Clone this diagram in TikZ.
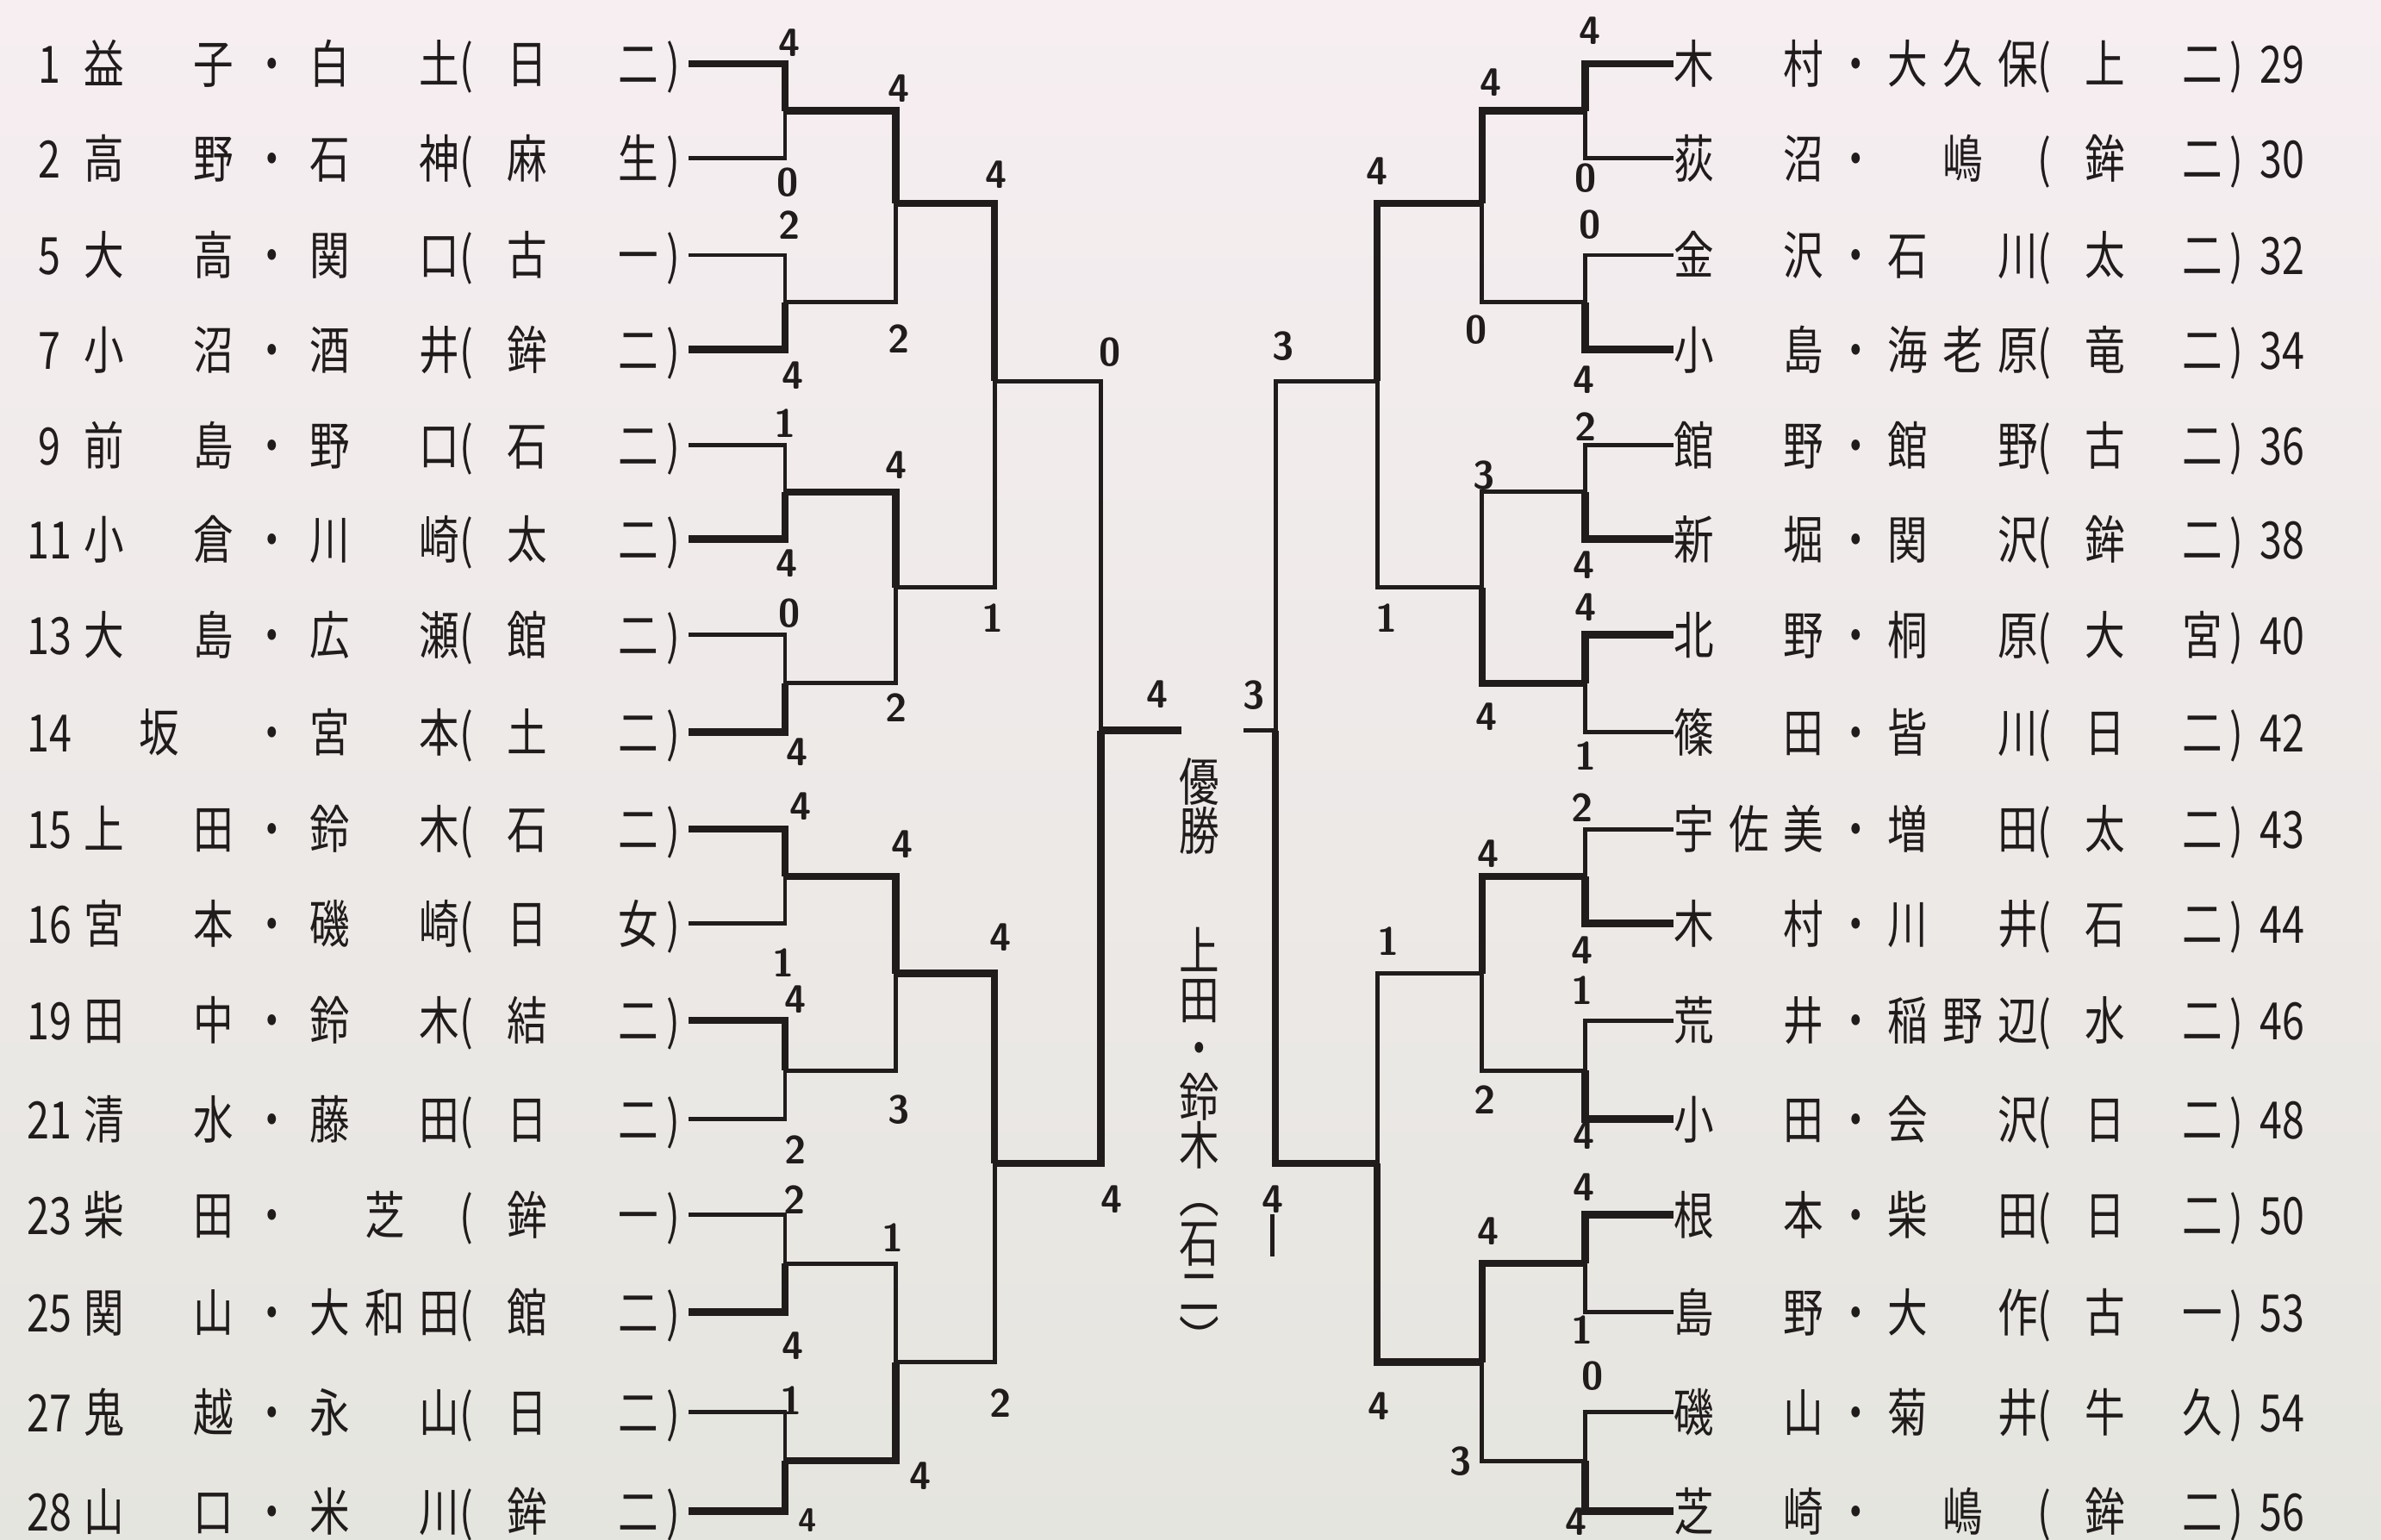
\documentclass[tikz,border=0pt]{standalone}
\usepackage{fontspec}
\newfontfamily\jp[FakeStretch=0.78]{Noto Sans CJK JP}
\definecolor{ink}{RGB}{32,28,28}
\definecolor{papertop}{RGB}{246,238,241}
\definecolor{paperbot}{RGB}{229,229,223}
% one row of the draw: number, two surnames, school
\newcommand\lteam[4]{\makebox[7.9mm]{#1}\makebox[17.4mm][s]{#2}\makebox[8.8mm]{・}\makebox[17.4mm][s]{#3}\makebox[5.5mm][l]{(}\makebox[17.6mm][s]{#4}\makebox[3.4mm]{)}}
\newcommand\rteam[4]{\makebox[17.4mm][s]{#1}\makebox[7.4mm]{・}\makebox[17.4mm][s]{#2}\makebox[5.5mm][l]{(}\makebox[15.9mm][s]{#3}\makebox[3.4mm]{)}\,#4}
\tikzset{
  team/.style={inner sep=0pt, anchor=west, text height=15pt, text depth=2pt, text=ink, font=\jp\fontsize{17}{17}\selectfont},
  score/.style={inner sep=0pt, text=ink, font=\sffamily\bfseries\fontsize{13}{13}\selectfont},
  vtext/.style={inner sep=0pt, align=center, text=ink, font=\jp\fontsize{17}{5.64mm}\selectfont},
  wline/.style={draw=ink, line width=2.4pt},
  lline/.style={draw=ink, line width=1.4pt},
}
\begin{document}
\begin{tikzpicture}[x=0.1762mm,y=-0.1762mm]
\shade[top color=papertop, bottom color=paperbot] (0,0) rectangle (1568,1014);
\useasboundingbox (0,0) rectangle (1568,1014);

% left half
\node[team] (t1) at (10,42) {\lteam{1}{益\hfill 子}{白\hfill 土}{日\hfill 二}};
\node[team] (t2) at (10,104) {\lteam{2}{高\hfill 野}{石\hfill 神}{麻\hfill 生}};
\node[team] (t5) at (10,168) {\lteam{5}{大\hfill 高}{関\hfill 口}{古\hfill 一}};
\node[team] (t7) at (10,230) {\lteam{7}{小\hfill 沼}{酒\hfill 井}{鉾\hfill 二}};
\node[team] (t9) at (10,293) {\lteam{9}{前\hfill 島}{野\hfill 口}{石\hfill 二}};
\node[team] (t11) at (10,355) {\lteam{11}{小\hfill 倉}{川\hfill 崎}{太\hfill 二}};
\node[team] (t13) at (10,418) {\lteam{13}{大\hfill 島}{広\hfill 瀬}{館\hfill 二}};
\node[team] (t14) at (10,482) {\lteam{14}{\hfil 坂\hfil}{宮\hfill 本}{土\hfill 二}};
\node[team] (t15) at (10,546) {\lteam{15}{上\hfill 田}{鈴\hfill 木}{石\hfill 二}};
\node[team] (t16) at (10,608) {\lteam{16}{宮\hfill 本}{磯\hfill 崎}{日\hfill 女}};
\node[team] (t19) at (10,672) {\lteam{19}{田\hfill 中}{鈴\hfill 木}{結\hfill 二}};
\node[team] (t21) at (10,737) {\lteam{21}{清\hfill 水}{藤\hfill 田}{日\hfill 二}};
\node[team] (t23) at (10,800) {\lteam{23}{柴\hfill 田}{\hfil 芝\hfil}{鉾\hfill 一}};
\node[team] (t25) at (10,864) {\lteam{25}{関\hfill 山}{大\hfill 和\hfill 田}{館\hfill 二}};
\node[team] (t27) at (10,930) {\lteam{27}{鬼\hfill 越}{永\hfill 山}{日\hfill 二}};
\node[team] (t28) at (10,995) {\lteam{28}{山\hfill 口}{米\hfill 川}{鉾\hfill 二}};

% right half
\node[team] (t29) at (1102,42) {\rteam{木\hfill 村}{大\hfill 久\hfill 保}{上\hfill 二}{29}};
\node[team] (t30) at (1102,104) {\rteam{荻\hfill 沼}{\hfil 嶋\hfil}{鉾\hfill 二}{30}};
\node[team] (t32) at (1102,168) {\rteam{金\hfill 沢}{石\hfill 川}{太\hfill 二}{32}};
\node[team] (t34) at (1102,230) {\rteam{小\hfill 島}{海\hfill 老\hfill 原}{竜\hfill 二}{34}};
\node[team] (t36) at (1102,293) {\rteam{館\hfill 野}{館\hfill 野}{古\hfill 二}{36}};
\node[team] (t38) at (1102,355) {\rteam{新\hfill 堀}{関\hfill 沢}{鉾\hfill 二}{38}};
\node[team] (t40) at (1102,418) {\rteam{北\hfill 野}{桐\hfill 原}{大\hfill 宮}{40}};
\node[team] (t42) at (1102,482) {\rteam{篠\hfill 田}{皆\hfill 川}{日\hfill 二}{42}};
\node[team] (t43) at (1102,546) {\rteam{宇\hfill 佐\hfill 美}{増\hfill 田}{太\hfill 二}{43}};
\node[team] (t44) at (1102,608) {\rteam{木\hfill 村}{川\hfill 井}{石\hfill 二}{44}};
\node[team] (t46) at (1102,672) {\rteam{荒\hfill 井}{稲\hfill 野\hfill 辺}{水\hfill 二}{46}};
\node[team] (t48) at (1102,737) {\rteam{小\hfill 田}{会\hfill 沢}{日\hfill 二}{48}};
\node[team] (t50) at (1102,800) {\rteam{根\hfill 本}{柴\hfill 田}{日\hfill 二}{50}};
\node[team] (t53) at (1102,864) {\rteam{島\hfill 野}{大\hfill 作}{古\hfill 一}{53}};
\node[team] (t54) at (1102,930) {\rteam{磯\hfill 山}{菊\hfill 井}{牛\hfill 久}{54}};
\node[team] (t56) at (1102,995) {\rteam{芝\hfill 崎}{\hfil 嶋\hfil}{鉾\hfill 二}{56}};

% champion, written top to bottom
\node[vtext] (yusho) at (790,531) {優\\勝};
\node[vtext] (champ) at (790,753) {上\\田\\・\\鈴\\木\\︵\\石\\二\\︶};

% bracket joints, left
\coordinate (a1) at (517,73);
\coordinate (a2) at (517,199);
\coordinate (a3) at (517,324);
\coordinate (a4) at (517,450);
\coordinate (a5) at (517,577);
\coordinate (a6) at (517,705);
\coordinate (a7) at (517,832);
\coordinate (a8) at (517,962);
\coordinate (b1) at (590,134);
\coordinate (b2) at (590,387);
\coordinate (b3) at (590,641);
\coordinate (b4) at (590,897);
\coordinate (c1) at (655,251);
\coordinate (c2) at (655,766);
\coordinate (d1) at (725,481);
\coordinate (e1) at (778,481);
% bracket joints, right
\coordinate (ra1) at (1044,73);
\coordinate (ra2) at (1044,199);
\coordinate (ra3) at (1044,324);
\coordinate (ra4) at (1044,450);
\coordinate (ra5) at (1044,577);
\coordinate (ra6) at (1044,705);
\coordinate (ra7) at (1044,832);
\coordinate (ra8) at (1044,962);
\coordinate (rb1) at (976,134);
\coordinate (rb2) at (976,387);
\coordinate (rb3) at (976,641);
\coordinate (rb4) at (976,897);
\coordinate (rc1) at (907,251);
\coordinate (rc2) at (907,766);
\coordinate (rd1) at (840,481);
\coordinate (re1) at (819,481);

% first round, left
\draw[wline] (t1.east) -| (a1);
\draw[lline] (t2.east) -| (a1);
\draw[lline] (t5.east) -| (a2);
\draw[wline] (t7.east) -| (a2);
\draw[lline] (t9.east) -| (a3);
\draw[wline] (t11.east) -| (a3);
\draw[lline] (t13.east) -| (a4);
\draw[wline] (t14.east) -| (a4);
\draw[wline] (t15.east) -| (a5);
\draw[lline] (t16.east) -| (a5);
\draw[wline] (t19.east) -| (a6);
\draw[lline] (t21.east) -| (a6);
\draw[lline] (t23.east) -| (a7);
\draw[wline] (t25.east) -| (a7);
\draw[lline] (t27.east) -| (a8);
\draw[wline] (t28.east) -| (a8);
% later rounds, left
\draw[wline] (a1) -| (b1);
\draw[lline] (a2) -| (b1);
\draw[wline] (a3) -| (b2);
\draw[lline] (a4) -| (b2);
\draw[wline] (a5) -| (b3);
\draw[lline] (a6) -| (b3);
\draw[lline] (a7) -| (b4);
\draw[wline] (a8) -| (b4);
\draw[wline] (b1) -| (c1);
\draw[lline] (b2) -| (c1);
\draw[wline] (b3) -| (c2);
\draw[lline] (b4) -| (c2);
\draw[lline] (c1) -| (d1);
\draw[wline] (c2) -| (d1);
\draw[wline] (d1) -- (e1);

% first round, right
\draw[wline] (t29.west) -| (ra1);
\draw[lline] (t30.west) -| (ra1);
\draw[lline] (t32.west) -| (ra2);
\draw[wline] (t34.west) -| (ra2);
\draw[lline] (t36.west) -| (ra3);
\draw[wline] (t38.west) -| (ra3);
\draw[wline] (t40.west) -| (ra4);
\draw[lline] (t42.west) -| (ra4);
\draw[lline] (t43.west) -| (ra5);
\draw[wline] (t44.west) -| (ra5);
\draw[lline] (t46.west) -| (ra6);
\draw[wline] (t48.west) -| (ra6);
\draw[wline] (t50.west) -| (ra7);
\draw[lline] (t53.west) -| (ra7);
\draw[lline] (t54.west) -| (ra8);
\draw[wline] (t56.west) -| (ra8);
% later rounds, right
\draw[wline] (ra1) -| (rb1);
\draw[lline] (ra2) -| (rb1);
\draw[lline] (ra3) -| (rb2);
\draw[wline] (ra4) -| (rb2);
\draw[wline] (ra5) -| (rb3);
\draw[lline] (ra6) -| (rb3);
\draw[wline] (ra7) -| (rb4);
\draw[lline] (ra8) -| (rb4);
\draw[wline] (rb1) -| (rc1);
\draw[lline] (rb2) -| (rc1);
\draw[lline] (rb3) -| (rc2);
\draw[wline] (rb4) -| (rc2);
\draw[lline] (rc1) -| (rd1);
\draw[wline] (rc2) -| (rd1);
\draw[lline] (rd1) -- (re1);

% scores, left
\node[score] (s1) at (520,28) {4};
\node[score] (s2) at (519,120) {0};
\node[score] (s3) at (520,148) {2};
\node[score] (s4) at (522,247) {4};
\node[score] (s5) at (517,279) {1};
\node[score] (s6) at (518,371) {4};
\node[score] (s7) at (520,404) {0};
\node[score] (s8) at (525,495) {4};
\node[score] (s9) at (527,531) {4};
\node[score] (s10) at (516,634) {1};
\node[score] (s11) at (524,658) {4};
\node[score] (s12) at (524,757) {2};
\node[score] (s13) at (523,790) {2};
\node[score] (s14) at (522,886) {4};
\node[score] (s15) at (521,922) {1};
\node[score,font=\sffamily\bfseries\fontsize{11}{11}\selectfont] (s16) at (532,1001) {4};
\node[score] (s17) at (592,58) {4};
\node[score] (s18) at (592,223) {2};
\node[score] (s19) at (590,306) {4};
\node[score] (s20) at (590,466) {2};
\node[score] (s21) at (594,556) {4};
\node[score] (s22) at (592,731) {3};
\node[score] (s23) at (588,815) {1};
\node[score] (s24) at (606,972) {4};
\node[score] (s25) at (656,115) {4};
\node[score] (s26) at (654,407) {1};
\node[score] (s27) at (659,617) {4};
\node[score] (s28) at (659,924) {2};
\node[score] (s29) at (731,232) {0};
\node[score] (s30) at (732,790) {4};
\node[score] (s31) at (762,457) {4};
% scores, right
\node[score] (s32) at (826,458) {3};
\node[score] (s33) at (1047,20) {4};
\node[score] (s34) at (1044,117) {0};
\node[score] (s35) at (1047,148) {0};
\node[score] (s36) at (1043,250) {4};
\node[score] (s37) at (1044,281) {2};
\node[score] (s38) at (1043,372) {4};
\node[score] (s39) at (1044,400) {4};
\node[score] (s40) at (1044,498) {1};
\node[score] (s41) at (1042,532) {2};
\node[score] (s42) at (1042,626) {4};
\node[score] (s43) at (1042,652) {1};
\node[score] (s44) at (1043,748) {4};
\node[score] (s45) at (1043,782) {4};
\node[score] (s46) at (1042,876) {1};
\node[score] (s47) at (1049,906) {0};
\node[score] (s48) at (1038,1002) {4};
\node[score] (s49) at (982,54) {4};
\node[score] (s50) at (972,217) {0};
\node[score] (s51) at (977,313) {3};
\node[score] (s52) at (979,472) {4};
\node[score] (s53) at (980,562) {4};
\node[score] (s54) at (978,724) {2};
\node[score] (s55) at (980,811) {4};
\node[score] (s56) at (962,962) {3};
\node[score] (s57) at (907,113) {4};
\node[score] (s58) at (913,407) {1};
\node[score] (s59) at (914,620) {1};
\node[score] (s60) at (908,926) {4};
\node[score] (s61) at (845,228) {3};
\node[score] (s62) at (838,790) {4};
\draw[lline] (s62.south) -- ++(0,28);
\end{tikzpicture}
\end{document}
